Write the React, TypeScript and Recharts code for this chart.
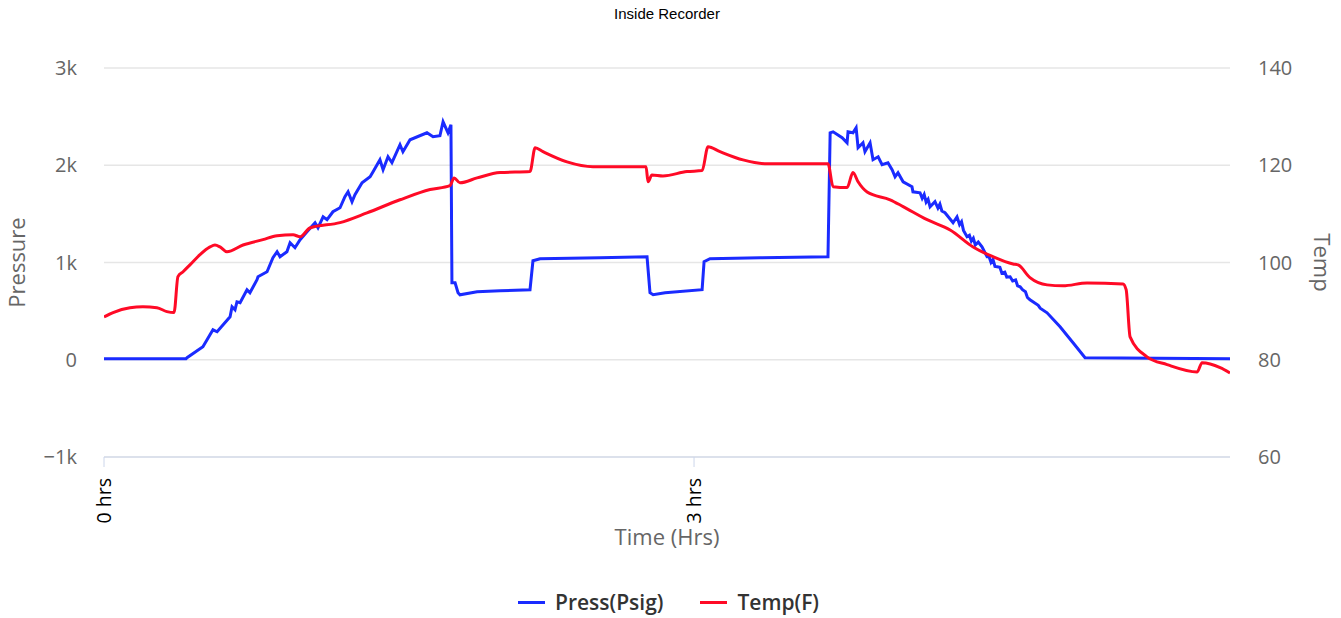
import { LineChart, Line, XAxis, YAxis, CartesianGrid, Legend } from 'recharts';

// Inside recorder log
const pressHours = [
  0, 0.417, 0.422, 0.503, 0.554, 0.575, 0.641, 0.651, 0.666, 0.676, 0.692, 0.727, 0.742, 0.778,
  0.783, 0.829, 0.859, 0.88, 0.895, 0.93, 0.946, 0.971, 0.997, 1.032, 1.073, 1.088, 1.114, 1.134,
  1.164, 1.2, 1.225, 1.241, 1.261, 1.276, 1.312, 1.353, 1.368, 1.403, 1.419, 1.444, 1.464, 1.505,
  1.52, 1.556, 1.642, 1.673, 1.708, 1.724, 1.749, 1.764, 1.769, 1.785, 1.8, 1.81, 1.897, 2.014,
  2.166, 2.181, 2.217, 2.522, 2.761, 2.776, 2.792, 2.853, 3.041, 3.051, 3.081, 3.336, 3.681,
  3.692, 3.707, 3.753, 3.778, 3.783, 3.808, 3.824, 3.834, 3.859, 3.869, 3.895, 3.91, 3.936,
  3.956, 3.986, 4.007, 4.022, 4.037, 4.063, 4.108, 4.113, 4.149, 4.16, 4.17, 4.18, 4.19, 4.2,
  4.225, 4.24, 4.25, 4.26, 4.276, 4.317, 4.337, 4.35, 4.36, 4.37, 4.388, 4.4, 4.41, 4.42,
  4.43, 4.445, 4.464, 4.49, 4.5, 4.51, 4.52, 4.53, 4.541, 4.555, 4.565, 4.58, 4.59, 4.607,
  4.62, 4.635, 4.645, 4.658, 4.67, 4.685, 4.695, 4.708, 4.75, 4.76, 4.795, 4.861, 4.927, 4.988,
  5.725,
];
const pressPsig = [
  10, 10, 21, 134, 308, 288, 442, 545, 514, 596, 586, 720, 689, 823,
  853, 905, 1049, 1111, 1059, 1111, 1203, 1152, 1234, 1316, 1409, 1357, 1470, 1440,
  1522, 1563, 1676, 1727, 1625, 1697, 1820, 1882, 1933, 2057, 1954, 2087, 2026, 2211,
  2139, 2262, 2334, 2293, 2303, 2447, 2334, 2416, 792, 792, 689, 668, 699, 710,
  720, 1018, 1039, 1049, 1059, 689, 668, 689, 720, 1008, 1039, 1049, 1059,
  2334, 2344, 2283, 2231, 2344, 2334, 2386, 2180, 2231, 2139, 2231, 2057, 2087,
  2005, 2026, 1954, 1882, 1923, 1830, 1779, 1727, 1717, 1660, 1700, 1620, 1650, 1573,
  1625, 1560, 1600, 1530, 1512, 1409, 1470, 1390, 1420, 1330, 1265, 1280, 1220, 1250,
  1180, 1210, 1162, 1059, 1060, 1000, 1030, 960, 956, 950, 890, 900, 850, 853,
  810, 820, 760, 751, 720, 700, 640, 617, 560, 530, 483, 339, 175, 21,
  10,
];

const tempHours = [
  0, 0.046, 0.132, 0.198, 0.269, 0.32, 0.356, 0.376, 0.402, 0.437, 0.488, 0.539, 0.564, 0.59,
  0.625, 0.707, 0.808, 0.88, 0.961, 0.997, 1.047, 1.2, 1.337, 1.505, 1.658, 1.759, 1.78, 1.81,
  1.897, 2.014, 2.166, 2.192, 2.232, 2.354, 2.486, 2.756, 2.766, 2.786, 2.842, 2.964, 3.041, 3.071,
  3.132, 3.249, 3.371, 3.681, 3.707, 3.778, 3.808, 3.834, 3.88, 3.997, 4.063, 4.185, 4.302, 4.419,
  4.52, 4.622, 4.648, 4.708, 4.795, 4.876, 4.998, 5.181, 5.197, 5.217, 5.303, 5.405, 5.558, 5.583,
  5.675, 5.725,
];
const tempF = [
  88.8, 89.7, 90.7, 90.9, 90.7, 89.9, 89.7, 97.1, 98.1, 99.5, 101.6, 103.2, 103.6, 103.2,
  102.2, 103.6, 104.7, 105.5, 105.7, 105.3, 107.1, 108.2, 110.2, 112.9, 115.0, 115.8, 117.4, 116.4,
  117.4, 118.5, 118.7, 123.6, 122.8, 120.7, 119.7, 119.7, 116.6, 118.0, 117.8, 118.7, 118.9, 123.8,
  122.8, 121.1, 120.3, 120.3, 115.6, 115.4, 118.5, 116.6, 114.5, 112.9, 111.5, 108.8, 106.7, 103.2,
  101.2, 99.7, 99.5, 96.9, 95.4, 95.2, 95.8, 95.6, 94.4, 84.7, 80.6, 79.0, 77.5, 79.4,
  78.4, 77.3,
];

const pressTicks = [-1000, 0, 1000, 2000, 3000];
const tempTicks = [60, 80, 100, 120, 140];
const timeTicks = [0, 3];

const pressData = pressHours.map((t, i) => ({ t, press: pressPsig[i] }));
const tempData = tempHours.map((t, i) => ({ t, temp: tempF[i] }));

const BLUE = '#1a2bff';
const RED = '#ff0a26';
const FONT = '"Open Sans", "Noto Sans", sans-serif';

const fmtK = (v: number) => (v === 0 ? '0' : `${v < 0 ? '\u2212' : ''}${Math.abs(v) / 1000}k`);

function TimeTick({ x, y, payload }: any) {
  return (
    <g transform={`translate(${x},${y + 9}) rotate(-90)`}>
      <text textAnchor="end" dy="0.36em" fontSize={19.5} fill="#000" fontFamily={FONT}>
        {`${payload.value} hrs`}
      </text>
    </g>
  );
}

function LegendBox() {
  const items = [
    { name: 'Press(Psig)', color: BLUE },
    { name: 'Temp(F)', color: RED },
  ];
  return (
    <div style={{ display: 'flex', justifyContent: 'center', gap: 37, fontFamily: FONT }}>
      {items.map((it) => (
        <div key={it.name} style={{ display: 'flex', alignItems: 'center' }}>
          <span style={{ display: 'inline-block', width: 27, height: 3, background: it.color, marginRight: 10 }} />
          <span style={{ fontSize: 21, fontWeight: 600, color: '#333' }}>{it.name}</span>
        </div>
      ))}
    </div>
  );
}

export default function App() {
  return (
    <div style={{ position: 'absolute', left: 0, top: 0, width: 1341, height: 618 }}>
      <div
        style={{
          position: 'absolute',
          top: 5,
          left: 104,
          width: 1126,
          textAlign: 'center',
          fontFamily: '"Liberation Sans", Arial, sans-serif',
          fontSize: 15,
          color: '#000',
        }}
      >
        Inside Recorder
      </div>
      <LineChart width={1341} height={618} margin={{ top: 68, right: 0, bottom: 61, left: 0 }}>
        <CartesianGrid yAxisId="press" vertical={false} stroke="#e6e6e6" strokeWidth={1.5} />
        <XAxis
          dataKey="t"
          type="number"
          domain={[0, 5.725]}
          ticks={timeTicks}
          allowDataOverflow
          height={100}
          stroke="#ccd6eb"
          tickSize={10}
          tick={<TimeTick />}
          label={{
            value: 'Time (Hrs)',
            position: 'insideBottom',
            offset: 12,
            style: { fontSize: 22, fill: '#666', fontFamily: FONT },
          }}
        />
        <YAxis
          yAxisId="press"
          orientation="left"
          width={104}
          domain={[-1000, 3000]}
          ticks={pressTicks}
          tickFormatter={fmtK}
          axisLine={false}
          tickLine={false}
          tickSize={0}
          tickMargin={27}
          tick={{ fontSize: 20, fill: '#666', fontFamily: FONT }}
          label={{
            value: 'Pressure',
            angle: -90,
            position: 'insideLeft',
            offset: 17,
            style: { textAnchor: 'middle', fontSize: 22, fill: '#666', fontFamily: FONT },
          }}
        />
        <YAxis
          yAxisId="temp"
          orientation="right"
          width={111}
          domain={[60, 140]}
          ticks={tempTicks}
          axisLine={false}
          tickLine={false}
          tickSize={0}
          tickMargin={28}
          tick={{ fontSize: 20, fill: '#666', fontFamily: FONT }}
          label={{
            value: 'Temp',
            angle: 90,
            position: 'insideRight',
            offset: 19,
            style: { textAnchor: 'middle', fontSize: 22, fill: '#666', fontFamily: FONT },
          }}
        />
        <Legend
          layout="horizontal"
          verticalAlign="middle"
          content={<LegendBox />}
          wrapperStyle={{ top: 588, left: -2, width: 1341 }}
        />
        <Line
          yAxisId="press"
          data={pressData}
          dataKey="press"
          name="Press(Psig)"
          type="linear"
          stroke={BLUE}
          strokeWidth={3}
          dot={false}
          isAnimationActive={false}
        />
        <Line
          yAxisId="temp"
          data={tempData}
          dataKey="temp"
          name="Temp(F)"
          type="monotone"
          stroke={RED}
          strokeWidth={3}
          dot={false}
          isAnimationActive={false}
        />
      </LineChart>
    </div>
  );
}
